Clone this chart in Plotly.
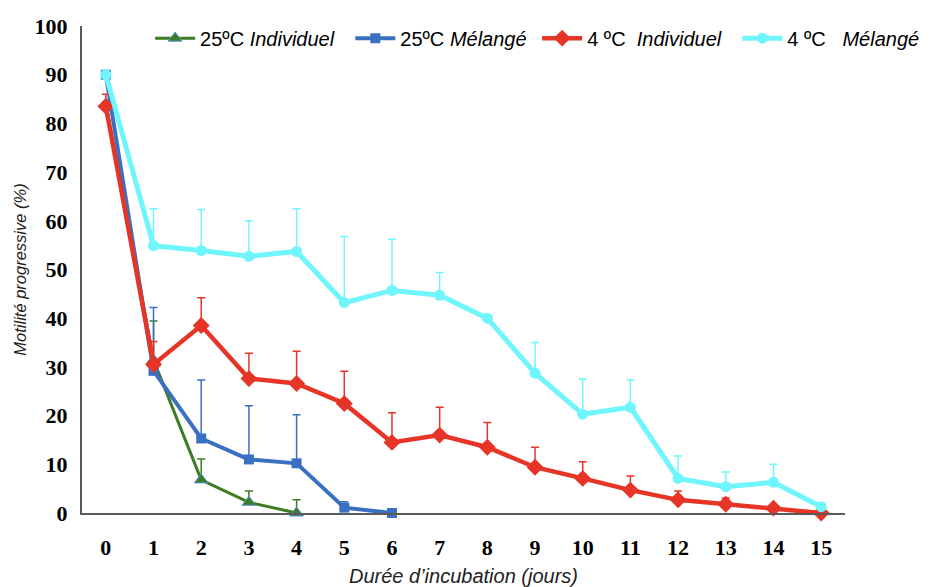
import plotly.graph_objects as go

days = list(range(16))

g_vals = [84, 31.4, 6.8, 2.2, 0]
g_err = [0, 8, 4.3, 2.3, 2.7]

b_vals = [90, 29.2, 15.3, 11, 10.2, 1.1, 0]
b_err = [0, 13, 12, 11, 10, 1.2, 0]

r_vals = [83.5, 30.5, 38.5, 27.6, 26.6, 22.5, 14.5, 16, 13.5, 9.4, 7.1, 4.7, 2.7, 1.8, 1, 0]
r_err = [2.5, 4.7, 5.7, 5.2, 6.6, 6.6, 6.1, 5.7, 5.1, 4.1, 3.4, 2.9, 1.8, 1.3, 0.3, 0]

c_vals = [90, 54.9, 53.9, 52.7, 53.7, 43.2, 45.7, 44.7, 40, 28.7, 20.3, 21.7, 7.1, 5.4, 6.3, 1.3]
c_err = [0, 7.6, 8.4, 7.3, 8.8, 13.6, 10.5, 4.7, 0, 6.3, 7.2, 5.6, 4.6, 3, 3.7, 0]

NB = "\u00a0"
names = ["25ºC" + NB + "<i>Individuel</i>" + NB * 2,
         "25ºC" + NB + "<i>Mélangé</i>" + NB,
         "4 ºC" + NB * 2 + "<i>Individuel</i>" + NB * 2,
         "4 ºC" + NB * 3 + "<i>Mélangé</i>"]
colors = ["#3a7d22", "#3a70c2", "#e63427", "#6ff6fc"]

series = [
    (g_vals, g_err, "triangle-up", 12, 3),
    (b_vals, b_err, "square", 10, 4),
    (r_vals, r_err, "diamond", 13, 4.5),
    (c_vals, c_err, "circle", 11, 5),
]

fig = go.Figure()
for (vals, err, sym, msize, lw), name, col in zip(series, names, colors):
    fig.add_trace(go.Scatter(
        x=days[:len(vals)], y=vals, name=name, mode="lines+markers",
        line=dict(color=col, width=lw),
        marker=dict(symbol=sym, size=msize, color=col,
                    line=dict(width=1 if sym == "triangle-up" else 0, color="#5b8fd6")),
        error_y=dict(type="data", symmetric=False, array=err,
                     arrayminus=[0] * len(err), color=col, thickness=1.5, width=4),
        cliponaxis=False,
    ))

tickfont = dict(family="Liberation Serif", size=22, color="black", weight="bold")

fig.update_layout(
    width=933, height=587,
    margin=dict(l=74, r=96, t=17, b=82),
    paper_bgcolor="white", plot_bgcolor="white",
    showlegend=True,
    legend=dict(orientation="h", x=1.105, y=1.013,
                xanchor="right", yanchor="top",
                font=dict(family="Liberation Sans", size=20, color="black"),
                bgcolor="rgba(0,0,0,0)", itemwidth=40, tracegroupgap=0),
    xaxis=dict(range=[-0.5, 15.5], tickmode="array", tickvals=days,
               ticktext=[str(d) for d in days], showgrid=False, zeroline=False,
               showline=True, linecolor="#5a5a5a", linewidth=2, ticks="",
               tickfont=tickfont, ticklabelstandoff=14, automargin=False,
               title=dict(text="<i>Durée d’incubation (jours)</i>",
                          font=dict(family="Liberation Sans", size=20, color="#222"),
                          standoff=10)),
    yaxis=dict(range=[0, 100], tickmode="array", tickvals=list(range(0, 101, 10)),
               showgrid=False, zeroline=False, showline=True, linecolor="#5a5a5a",
               linewidth=2, ticks="", tickfont=tickfont, ticklabelstandoff=8,
               automargin=False,
               title=dict(text="<i>Motilité progressive (%)</i>",
                          font=dict(family="Liberation Sans", size=16.5, color="#222"),
                          standoff=4)),
)

fig.write_html("out.html")
